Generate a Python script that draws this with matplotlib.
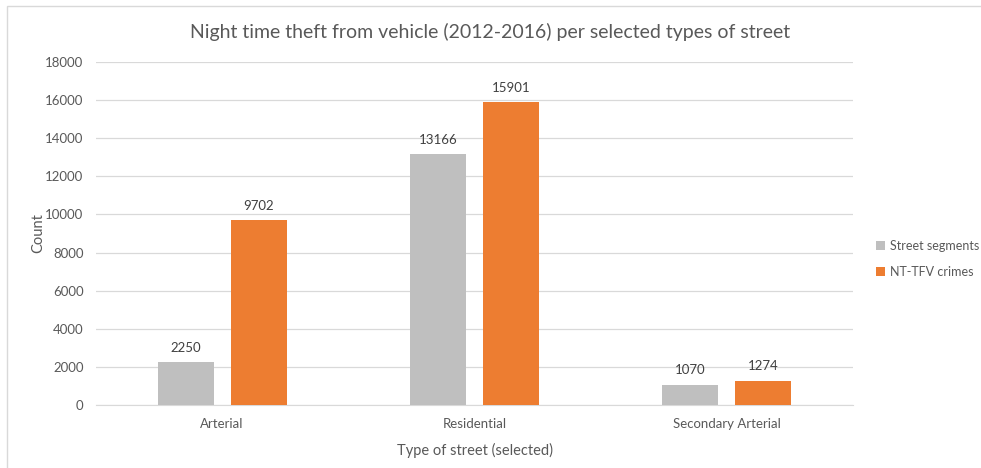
import numpy as np
import matplotlib.pyplot as plt
from matplotlib.patches import Rectangle

plt.rcParams['font.family'] = ['Lato', 'DejaVu Sans']

categories = ['Arterial', 'Residential', 'Secondary Arterial']
street_segments = [2250, 13166, 1070]
ntfv_crimes = [9702, 15901, 1274]
series_names = ['Street segments', 'NT-TFV crimes']

text_col = '#595959'
gray = '#BFBFBF'
orange = '#ED7D31'

fig = plt.figure(figsize=(9.81, 4.68), dpi=100)
ax = fig.add_axes([0.0979, 0.1346, 0.7716, 0.7329])

# light frame around the whole chart
fig.patches.append(Rectangle((7 / 981, -0.1), 1.1, 1 - 6 / 468 + 0.1,
                             transform=fig.transFigure, fill=False,
                             edgecolor='#D9D9D9', linewidth=1.0))

x = np.arange(len(categories))
w = 0.222
off = 0.145
b1 = ax.bar(x - off, street_segments, w, color=gray, label=series_names[0], zorder=3)
b2 = ax.bar(x + off, ntfv_crimes, w, color=orange, label=series_names[1], zorder=3)

for bars in (b1, b2):
    for rect in bars:
        h = rect.get_height()
        ax.annotate(f'{h:.0f}', (rect.get_x() + rect.get_width() / 2, h),
                    xytext=(0, 6), textcoords='offset points',
                    ha='center', va='bottom', fontsize=9.5, color='#404040')

ax.set_xlim(-0.5, 2.5)
ax.set_ylim(0, 18000)
ax.set_yticks(np.arange(0, 18001, 2000))
ax.set_xticks(x)
ax.set_xticklabels(categories)
ax.grid(axis='y', color='#D9D9D9', linewidth=0.9, zorder=0)
for s in ('top', 'right', 'left'):
    ax.spines[s].set_visible(False)
ax.spines['bottom'].set_color('#D9D9D9')
ax.tick_params(axis='both', length=0, labelsize=9.5, colors=text_col)
ax.tick_params(axis='y', pad=9)
ax.tick_params(axis='x', pad=9)

ax.set_ylabel('Count', fontsize=10.5, color=text_col, labelpad=0)
ax.set_xlabel('Type of street (selected)', fontsize=10.5, color=text_col, labelpad=10)
fig.text(0.5, 0.932, 'Night time theft from vehicle (2012-2016) per selected types of street',
         ha='center', va='center', fontsize=14, color=text_col)

leg = fig.legend(handles=[b1, b2], loc='center left', bbox_to_anchor=(0.893, 0.447),
                 frameon=False, fontsize=9, handlelength=0.7, handleheight=0.7,
                 handletextpad=0.4, labelspacing=1.1, borderpad=0, borderaxespad=0)
for t in leg.get_texts():
    t.set_color(text_col)

fig.savefig('out.png', dpi=100)
